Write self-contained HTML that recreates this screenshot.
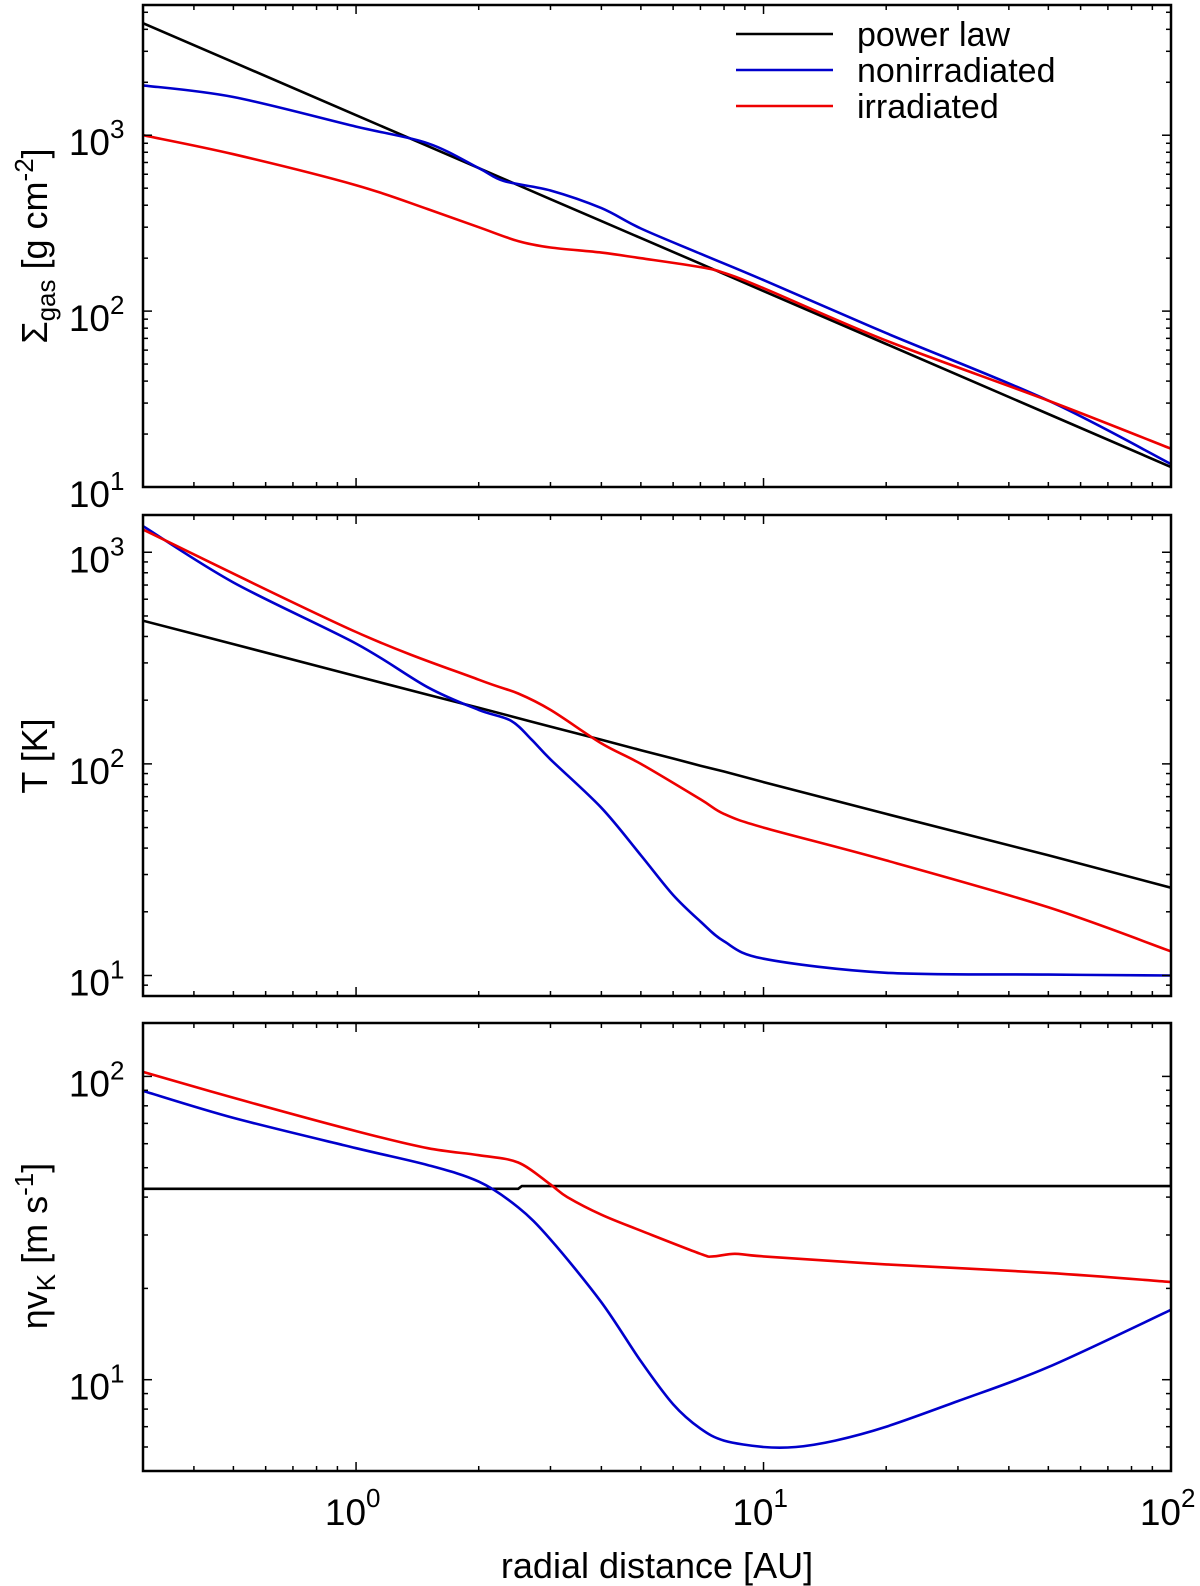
<!DOCTYPE html>
<html><head><meta charset="utf-8"><style>
body{margin:0;background:#fff}
svg{display:block;font-family:"Liberation Sans",Arial,sans-serif}
</style></head><body>
<svg id="chart" width="1200" height="1586" viewBox="0 0 1200 1586" xmlns="http://www.w3.org/2000/svg"></svg>
<script>
// x values (AU)
const xSigma = [0.3,0.5,1,1.5,2,2.3,3,4,5,7,10,20,50,100];
const sigmaPower = [4333,2600,1300,867,650,565,433,325,260,186,130,65,26,13];
const sigmaNonirr = [1920,1650,1120,900,650,550,485,385,295,212,150,75,31,13.5];
const xSigmaIrr = [0.3,0.5,1,1.5,2,2.5,3,4,5,7,8,10,20,50,100];
const sigmaIrr = [1000,780,520,380,300,250,230,215,200,178,165,135,68,31,16.5];

const xT = [0.3,0.5,1,1.5,2,2.4,2.7,3,4,5,6,7,8,10,20,50,100];
const tPower = [475,368,260,212,184,168,158,150,130,116,106,98,92,82,58,37,26];
const tNonirr = [1330,720,370,230,180,160,130,105,62,37,24,18,14.5,12,10.3,10.1,10];
const xTIrr = [0.3,1,2,2.5,3,4,5,7,8,10,20,50,100];
const tIrr = [1280,420,250,215,180,125,100,68,58,50,35,21,13];

const xEta = [0.3,2.5,2.55,100,100];
const etaPower = [42.6,42.6,43.5,43.5,150];
const xEtaIrr = [0.3,0.5,1,1.5,2,2.5,3,3.3,4,5,7,7.5,8.5,10,20,50,100];
const etaIrr = [103.5,85,66,58,55,52,44,40,35,31,26,25.5,26,25.5,24,22.5,21];
const xEtaNon = [0.3,0.5,1,1.5,2,2.5,3,4,5,6,7,8,10,12,15,20,30,50,100];
const etaNonirr = [89.6,73,58,51,45,37,29,18,11.5,8.3,6.9,6.3,6.0,6.0,6.3,7,8.5,11,17];

const xTickExp = [0,1,2];

const NS="http://www.w3.org/2000/svg";
const svg=document.getElementById('chart');
const X0=143,X1=1171,XMIN=Math.log10(0.3),XMAX=2;
function xs(v){return X0+(Math.log10(v)-XMIN)/(XMAX-XMIN)*(X1-X0);}
function mk(tag,attrs,parent){const e=document.createElementNS(NS,tag);for(const k in attrs)e.setAttribute(k,attrs[k]);(parent||svg).appendChild(e);return e;}
function smooth(pts){
  let d='M'+pts[0][0].toFixed(1)+','+pts[0][1].toFixed(1);
  for(let i=0;i<pts.length-1;i++){
    const p0=pts[Math.max(0,i-1)],p1=pts[i],p2=pts[i+1],p3=pts[Math.min(pts.length-1,i+2)];
    const t=0.16;
    const c1=[p1[0]+(p2[0]-p0[0])*t,p1[1]+(p2[1]-p0[1])*t];
    const c2=[p2[0]-(p3[0]-p1[0])*t,p2[1]-(p3[1]-p1[1])*t];
    d+='C'+c1[0].toFixed(1)+','+c1[1].toFixed(1)+' '+c2[0].toFixed(1)+','+c2[1].toFixed(1)+' '+p2[0].toFixed(1)+','+p2[1].toFixed(1);
  }
  return d;
}

const panels=[
 {name:'sigma',top:5,bot:487,ymin:10,ymax:5500,yexp:[1,2,3],
  series:[[xSigma,sigmaPower,'#000','power-law',0],[xSigma,sigmaNonirr,'#0000cc','nonirradiated',1],[xSigmaIrr,sigmaIrr,'#ee0000','irradiated',1]]},
 {name:'temperature',top:515,bot:996,ymin:8,ymax:1500,yexp:[1,2,3],
  series:[[xT,tPower,'#000','power-law',0],[xT,tNonirr,'#0000cc','nonirradiated',1],[xTIrr,tIrr,'#ee0000','irradiated',1]]},
 {name:'eta-vk',top:1023,bot:1471,ymin:5,ymax:150,yexp:[1,2],
  series:[[xEta,etaPower,'#000','power-law',0],[xEtaIrr,etaIrr,'#ee0000','irradiated',1],[xEtaNon,etaNonirr,'#0000cc','nonirradiated',1]]}
];

panels.forEach((p,pi)=>{
  const g=mk('g',{});
  
  
  const lmin=Math.log10(p.ymin),lmax=Math.log10(p.ymax);
  const ys=v=>p.bot-(Math.log10(v)-lmin)/(lmax-lmin)*(p.bot-p.top);
  const clip=mk('clipPath',{id:'c'+pi},g);
  mk('rect',{x:X0,y:p.top,width:X1-X0,height:p.bot-p.top},clip);
  p.series.forEach(s=>{
    const pts=s[0].map((x,i)=>[xs(x),ys(s[1][i])]);
    const d=s[4]?smooth(pts):pts.map((q,i)=>(i?'L':'M')+q[0].toFixed(1)+','+q[1].toFixed(1)).join('');
    const path=mk('path',{d:d,fill:'none',stroke:s[2],'stroke-width':2.6,'stroke-linejoin':'round','clip-path':'url(#c'+pi+')'},g);
    
    
  });
  for(let e=-1;e<=1;e++)for(let m=1;m<=9;m++){
    const v=m*Math.pow(10,e); if(v<0.3||v>100)continue;
    const x=xs(v),L=m===1?9:5;
    mk('line',{x1:x,y1:p.bot,x2:x,y2:p.bot-L,stroke:'#000','stroke-width':1.5},g);
    mk('line',{x1:x,y1:p.top,x2:x,y2:p.top+L,stroke:'#000','stroke-width':1.5},g);
  }
  for(let e=0;e<=3;e++)for(let m=1;m<=9;m++){
    const v=m*Math.pow(10,e); if(v<p.ymin||v>p.ymax)continue;
    const y=ys(v),L=m===1?9:5;
    mk('line',{x1:X0,y1:y,x2:X0+L,y2:y,stroke:'#000','stroke-width':1.5},g);
    mk('line',{x1:X1,y1:y,x2:X1-L,y2:y,stroke:'#000','stroke-width':1.5},g);
  }
  p.yexp.forEach(e=>{
    const y=ys(Math.pow(10,e));
    const t=mk('text',{x:110,y:y+20,'font-size':37,'text-anchor':'end'},g);
    
    
    t.textContent='10';
    const s=mk('text',{x:110,y:y+3,'font-size':26},g);
    s.textContent=e;
  });
  mk('rect',{x:X0,y:p.top,width:X1-X0,height:p.bot-p.top,fill:'none',stroke:'#000','stroke-width':2.5},g);
});

xTickExp.forEach(e=>{
  const x=xs(Math.pow(10,e));
  const t=mk('text',{x:x+10,y:1525,'font-size':37,'text-anchor':'end'});
  
  
  t.textContent='10';
  const s=mk('text',{x:x+10,y:1507,'font-size':26});
  s.textContent=e;
});
</script>
<svg style="position:absolute;left:0;top:0" width="1200" height="1586" xmlns="http://www.w3.org/2000/svg" font-family="Liberation Sans, Arial, sans-serif">
  <text x="657" y="1578" font-size="36" text-anchor="middle">radial distance [AU]</text>
  <text transform="translate(47,246) rotate(-90)" font-size="36" text-anchor="middle">Σ<tspan font-size="26" dy="8">gas</tspan><tspan dy="-8"> [g cm</tspan><tspan font-size="26" dy="-14">-2</tspan><tspan dy="14">]</tspan></text>
  <text transform="translate(47,756) rotate(-90)" font-size="36" text-anchor="middle">T [K]</text>
  <text transform="translate(47,1246) rotate(-90)" font-size="36" text-anchor="middle">ηv<tspan font-size="26" dy="8">K</tspan><tspan dy="-8"> [m s</tspan><tspan font-size="26" dy="-14">-1</tspan><tspan dy="14">]</tspan></text>
  <g>
    <line x1="736" y1="34" x2="833" y2="34" stroke="#000" stroke-width="2.6"/>
    <text x="857" y="46" font-size="34">power law</text>
    <line x1="736" y1="70" x2="833" y2="70" stroke="#0000cc" stroke-width="2.6"/>
    <text x="857" y="82" font-size="34">nonirradiated</text>
    <line x1="736" y1="106" x2="833" y2="106" stroke="#ee0000" stroke-width="2.6"/>
    <text x="857" y="118" font-size="34">irradiated</text>
  </g>
</svg>
</body></html>
